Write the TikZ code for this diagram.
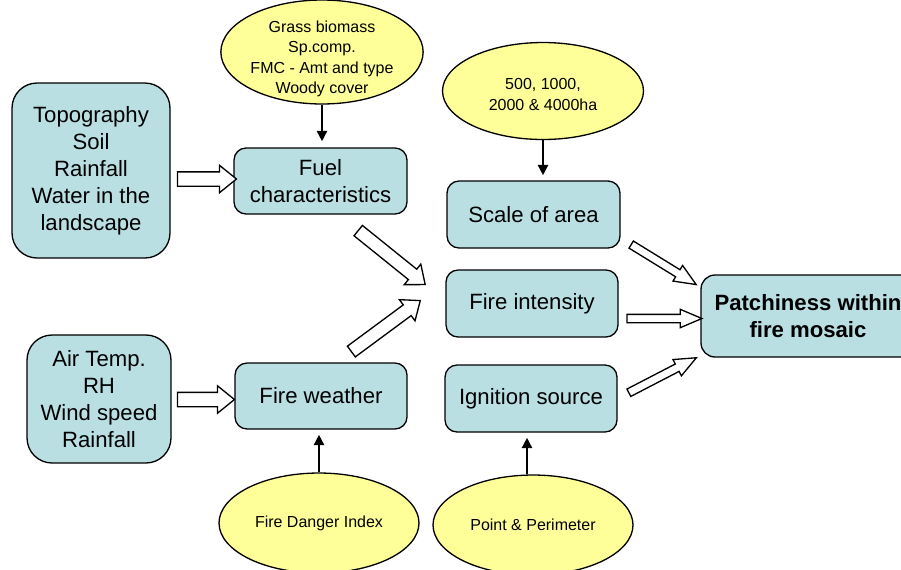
\documentclass[tikz,border=0pt]{standalone}
\usepackage{fontspec}
\setmainfont{Liberation Sans}
\usetikzlibrary{shapes.geometric,shapes.arrows,arrows.meta,calc}

\definecolor{boxblue}{RGB}{185,223,227}
\definecolor{ellyellow}{RGB}{255,255,153}

\tikzset{
  factor/.style={draw, line width=0.75pt, fill=boxblue, rounded corners=0.24cm, align=center,
    inner sep=0pt, font=\fontsize{12.6pt}{15.4pt}\selectfont},
  driver/.style={draw, line width=0.75pt, ellipse, fill=ellyellow, align=center,
    inner sep=0pt, font=\fontsize{9.1pt}{11.7pt}\selectfont},
  feed/.style={-{Triangle[length=0.21cm,width=0.2cm]}, line width=1.4pt},
  hollow/.style={single arrow, draw, fill=white, line width=0.75pt, inner xsep=0pt,
    inner ysep=0.13cm, single arrow head extend=0.13cm, single arrow tip angle=78},
  hollowsmall/.style={hollow, inner ysep=0.07cm, single arrow head extend=0.1cm,
    single arrow tip angle=46}
}

% block arrow between two coordinates: [style]{from}{to}{name}
\newcommand{\blockarrow}[4][hollow]{%
  \path let \p1=(#2), \p2=(#3), \n1={atan2(\y2-\y1,\x2-\x1)},
    \n2={veclen(\x2-\x1,\y2-\y1)} in
    node[#1, minimum height=\n2, rotate=\n1] (#4) at ($(#2)!0.5!(#3)$) {};%
}

\begin{document}
\begin{tikzpicture}[x=0.02cm,y=-0.02cm]
  \useasboundingbox (0,0) rectangle (901,569);

  % >>> input boxes
  \node[factor, rounded corners=0.5cm, minimum width=3.16cm, minimum height=3.5cm] (topo) at (91,170.5)
    {Topography\\Soil\\Rainfall\\Water in the\\landscape};
  \node[factor, rounded corners=0.5cm, minimum width=2.88cm, minimum height=2.56cm] (air) at (99,399)
    {Air Temp.\\RH\\Wind speed\\Rainfall};
  % <<< input boxes

  % >>> factors
  \node[factor, minimum width=3.46cm, minimum height=1.32cm] (fuel) at (320.5,181) {Fuel\\characteristics};
  \node[factor, minimum width=3.44cm, minimum height=1.32cm] (weather) at (321,396) {Fire weather};
  \node[factor, minimum width=3.46cm, minimum height=1.34cm] (scale) at (533.5,214.5) {Scale of area};
  \node[factor, minimum width=3.44cm, minimum height=1.34cm] (intensity) at (532,303.5) {Fire intensity};
  \node[factor, minimum width=3.44cm, minimum height=1.34cm] (ignition) at (531,398.5) {Ignition source};
  \node[factor, rounded corners=0.28cm, minimum width=4.28cm, minimum height=1.64cm,
    font=\bfseries\fontsize{12.6pt}{15.4pt}\selectfont] (patch) at (808,316) {Patchiness within\\fire mosaic};
  % <<< factors

  % >>> drivers
  \node[driver, minimum width=3.92cm, minimum height=2.08cm] (grass) at (322,52)
    {\raisebox{-0.22cm}[0pt][0pt]{\begin{tabular}{@{}c@{}}Grass biomass\\Sp.comp.\\FMC - Amt and type\\Woody cover\end{tabular}}};
  \node[driver, minimum width=4.02cm, minimum height=1.94cm] (area) at (543,91)
    {\\[-0.05cm]500, 1000,\\2000 \& 4000ha};
  \node[driver, minimum width=4cm, minimum height=2cm] (fdi) at (319,523) {Fire Danger Index};
  \node[driver, minimum width=4cm, minimum height=2cm] (point) at (533,525) {Point \& Perimeter};

  \coordinate (pointtop) at ($(point.north)+(-6,0)$);
  \draw[feed, shorten >=0.12cm] (grass.south) -- (grass.south |- fuel.north);
  \draw[feed, shorten >=0.1cm] (area.south) -- (area.south |- scale.north);
  \draw[feed, shorten >=0.1cm] (fdi.north) -- (fdi.north |- weather.south);
  \draw[feed, shorten >=0.1cm] (pointtop) -- (pointtop |- ignition.south);
  % <<< drivers

  % >>> block arrows
  \coordinate (t1) at (173,179);   \coordinate (h1) at (232,179);
  \coordinate (t2) at (173,399.5); \coordinate (h2) at (230,399.5);
  \coordinate (t3) at (355,228);   \coordinate (h3) at (422,282);
  \coordinate (t4) at (348,354);   \coordinate (h4) at (417,303);
  \coordinate (t5) at (627,242);   \coordinate (h5) at (692,282);
  \coordinate (t6) at (622,318.5); \coordinate (h6) at (697,318.5);
  \coordinate (t7) at (624.5,395); \coordinate (h7) at (692,360);

  \blockarrow{t1}{h1}{topofuel}
  \blockarrow{t2}{h2}{airweather}
  \blockarrow[hollow, inner ysep=0.12cm]{t3}{h3}{fuelmid}
  \blockarrow[hollow, inner ysep=0.12cm]{t4}{h4}{weathermid}
  \blockarrow[hollowsmall]{t5}{h5}{scalepatch}
  \blockarrow[hollowsmall]{t6}{h6}{intensitypatch}
  \blockarrow[hollowsmall]{t7}{h7}{ignitionpatch}
  % <<< block arrows
\end{tikzpicture}
\end{document}
